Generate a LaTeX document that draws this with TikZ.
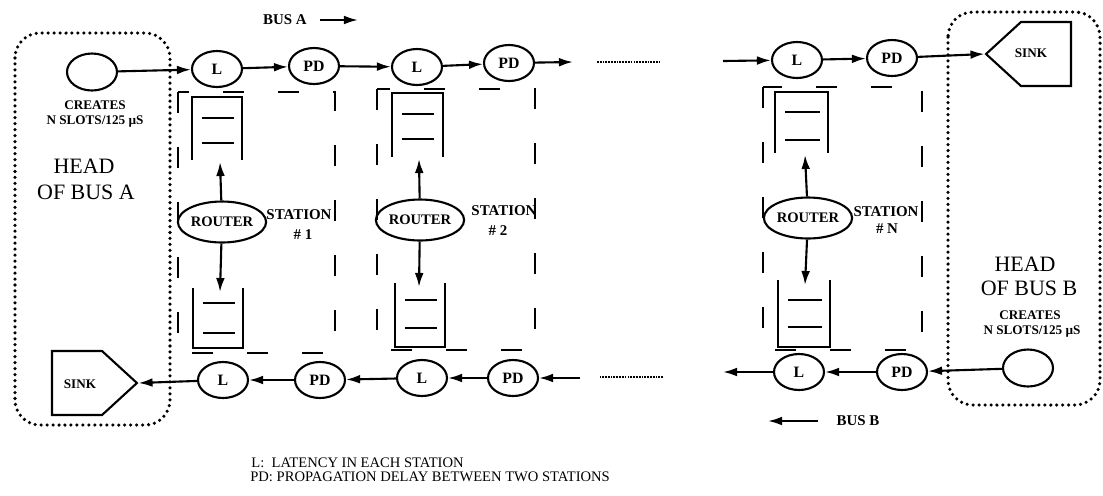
\documentclass[tikz,border=0pt]{standalone}
\usepackage{fontspec}
\setmainfont{Liberation Serif}
\usetikzlibrary{arrows.meta, shapes.geometric, shapes.symbols}

\tikzset{
  blk/.style={ellipse, draw, line width=1.2pt, inner sep=0pt, minimum width=1.0cm, minimum height=0.72cm, font=\fontsize{9}{10}\selectfont\bfseries},
  src/.style={ellipse, draw, line width=1.2pt, inner sep=0pt, minimum width=1.0cm, minimum height=0.74cm},
  rtr/.style={ellipse, draw, line width=1.2pt, inner sep=0pt, minimum width=1.45cm, minimum height=0.82cm, font=\fontsize{8.3}{9}\selectfont\bfseries},
  sinknode/.style={signal, draw, line width=1.2pt, inner sep=0pt, signal pointer angle=85, minimum width=1.7cm, minimum height=1.28cm},
  bus/.style={-{Latex[length=8pt,width=5pt]}, line width=1.2pt},
  gapline/.style={line width=1.2pt, dash pattern=on 1pt off 0.6pt},
  qbuf/.style={line width=1.3pt},
  stbox/.style={line width=1.4pt, dash pattern=on 0.42cm off 0.68cm},
  headbox/.style={line width=2pt, line cap=round, dash pattern=on 0pt off 3.4pt, rounded corners=0.5cm},
  note/.style={font=\fontsize{7.5}{8}\selectfont\bfseries, inner sep=0pt},
  big/.style={font=\fontsize{12.5}{14}\selectfont, inner sep=0pt},
  stlbl/.style={font=\fontsize{8.5}{10}\selectfont\bfseries, inner sep=0pt},
  legend/.style={font=\fontsize{8.3}{9}\selectfont, inner sep=0pt, anchor=west},
}

\begin{document}
\begin{tikzpicture}[x=0.02cm, y=-0.02cm]
    \useasboundingbox (0,0) rectangle (1103,495);

    % head of bus A
    \draw[headbox] (15,33) rectangle (170,425);
    \node[src] (srcA) at (92,72) {};
    \node[note] (creA) at (95,105) {CREATES};
    \node[note] (slotA) at (95,122) {N SLOTS/125 µS};
    \node[big] (headA1) at (84,166) {HEAD};
    \node[big] (headA2) at (86,192) {OF BUS A};
    \node[sinknode, signal to=east] (sinkA) at (77,383) {};
    \node[note] (sinkAt) at (80,384) {SINK};

    % head of bus B
    \draw[headbox] (948,12) rectangle (1100,405);
    \node[src] (srcB) at (1028,368) {};
    \node[big] (headB1) at (1025,264) {HEAD};
    \node[big] (headB2) at (1029,288) {OF BUS B};
    \node[note] (creB) at (1030,315) {CREATES};
    \node[note] (slotB) at (1032,332) {N SLOTS/125 µS};
    \node[sinknode, signal to=west] (sinkB) at (1046,54) {};
    \node[note] (sinkBt) at (1031,53) {SINK};

    % bus A
    \node[blk] (lat1) at (217,69) {L};
    \node[blk] (pd1) at (314,66) {PD};
    \node[blk] (lat2) at (417,67) {L};
    \node[blk] (pd2) at (509,63) {PD};
    \node[blk] (latn) at (797,60) {L};
    \node[blk] (pdn) at (892,58) {PD};
    \coordinate (gapA1) at (573,62);
    \coordinate (dotA1) at (597,62);
    \coordinate (dotA2) at (660,62);
    \coordinate (gapA2) at (723,61);
    \draw[bus] (srcA) -- (lat1);
    \draw[bus] (lat1) -- (pd1);
    \draw[bus] (pd1) -- (lat2);
    \draw[bus] (lat2) -- (pd2);
    \draw[bus] (pd2) -- (gapA1);
    \draw[gapline] (dotA1) -- (dotA2);
    \draw[bus] (gapA2) -- (latn);
    \draw[bus] (latn) -- (pdn);
    \draw[bus] (pdn) -- (sinkB.west);

    % bus B
    \node[blk] (latb1) at (223,380) {L};
    \node[blk] (pdb1) at (320,380) {PD};
    \node[blk] (latb2) at (422,378) {L};
    \node[blk] (pdb2) at (513,378) {PD};
    \node[blk] (latbn) at (799,372) {L};
    \node[blk] (pdbn) at (902,372) {PD};
    \coordinate (gapB1) at (723,372);
    \coordinate (dotB1) at (663,377);
    \coordinate (dotB2) at (600,377);
    \coordinate (gapB2) at (580,378);
    \draw[bus] (srcB) -- (pdbn);
    \draw[bus] (pdbn) -- (latbn);
    \draw[bus] (latbn) -- (gapB1);
    \draw[gapline] (dotB1) -- (dotB2);
    \draw[bus] (gapB2) -- (pdb2);
    \draw[bus] (pdb2) -- (latb2);
    \draw[bus] (latb2) -- (pdb1);
    \draw[bus] (pdb1) -- (latb1);
    \draw[bus] (latb1) -- (sinkA.east);

    % direction of the buses
    \node[stlbl] (busA) at (285,20) {BUS A};
    \coordinate (busA1) at (320,20);
    \coordinate (busA2) at (358,20);
    \draw[bus] (busA1) -- (busA2);
    \node[stlbl] (busB) at (858,421) {BUS B};
    \coordinate (busB1) at (818,421);
    \coordinate (busB2) at (768,421);
    \draw[bus] (busB1) -- (busB2);

    % station 1
    \draw[stbox] (178,92) rectangle (335,353);
    \draw[qbuf] (192,160) -- (192,97) -- (242,97) -- (242,160);
    \draw[qbuf] (202,118) -- (234,118) (202,143) -- (234,143);
    \draw[qbuf] (193,288) -- (193,348) -- (243,348) -- (243,288);
    \draw[qbuf] (203,303) -- (235,303) (203,333) -- (235,333);
    \node[rtr] (rtr1) at (222,222) {ROUTER};
    \coordinate (qa1) at (220,162);
    \coordinate (qb1) at (220,292);
    \draw[bus] (rtr1) -- (qa1);
    \draw[bus] (rtr1) -- (qb1);
    \node[stlbl] (st1a) at (299,215) {STATION};
    \node[stlbl] (st1b) at (303,235) {\# 1};

    % station 2
    \draw[stbox] (377,89) rectangle (535,350);
    \draw[qbuf] (392,157) -- (392,93) -- (443,93) -- (443,157);
    \draw[qbuf] (402,114) -- (434,114) (402,139) -- (434,139);
    \draw[qbuf] (395,283) -- (395,347) -- (445,347) -- (445,283);
    \draw[qbuf] (405,300) -- (437,300) (405,328) -- (437,328);
    \node[rtr] (rtr2) at (420,220) {ROUTER};
    \coordinate (qa2) at (419,159);
    \coordinate (qb2) at (419,287);
    \draw[bus] (rtr2) -- (qa2);
    \draw[bus] (rtr2) -- (qb2);
    \node[stlbl] (st2a) at (504,211) {STATION};
    \node[stlbl] (st2b) at (498,231) {\# 2};

    % station N
    \draw[stbox] (763,87) rectangle (922,350);
    \draw[qbuf] (775,153) -- (775,92) -- (828,92) -- (828,153);
    \draw[qbuf] (785,112) -- (820,112) (785,140) -- (820,140);
    \draw[qbuf] (778,280) -- (778,347) -- (830,347) -- (830,280);
    \draw[qbuf] (788,300) -- (822,300) (788,327) -- (822,327);
    \node[rtr] (rtrn) at (808,218) {ROUTER};
    \coordinate (qan) at (805,155);
    \coordinate (qbn) at (805,285);
    \draw[bus] (rtrn) -- (qan);
    \draw[bus] (rtrn) -- (qbn);
    \node[stlbl] (stna) at (886,212) {STATION};
    \node[stlbl] (stnb) at (887,229) {\# N};

    % legenda
    \node[legend] (legL) at (251,463) {L:\ \ LATENCY IN EACH STATION};
    \node[legend] (legPD) at (250,477) {PD: PROPAGATION DELAY BETWEEN TWO STATIONS};
\end{tikzpicture}
\end{document}
